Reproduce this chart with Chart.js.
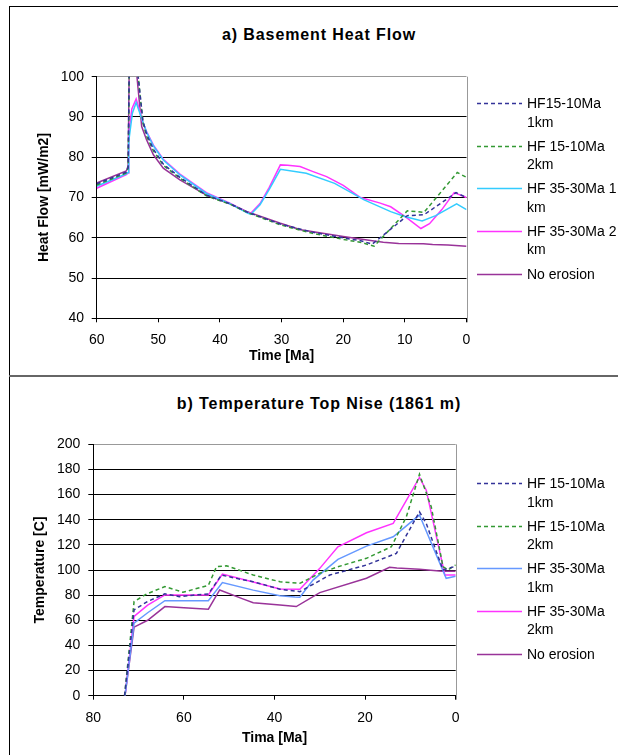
<!DOCTYPE html>
<html>
<head>
<meta charset="utf-8">
<script src="https://cdn.jsdelivr.net/npm/chart.js@4.4.0/dist/chart.umd.min.js"></script>
<style>
  body { margin: 0; background: #fff; width: 618px; height: 755px; overflow: hidden; position: relative;
         font-family: 'Liberation Sans', Arial, sans-serif; color: #000; }
  .frame { position: absolute; left: 9px; top: 6px; width: 700px; height: 800px;
           border-left: 1px solid #000; border-top: 1px solid #000; }
  .divider { position: absolute; left: 9px; top: 375px; width: 620px; height: 2px; background: #666; }
  .panel { position: absolute; left: 10px; }
  .title { position: absolute; left: 10px; width: 618px; text-align: center; font-weight: bold;
           font-size: 16px; line-height: 20px; letter-spacing: 0.9px; }
  .item { position: absolute; left: 477px; white-space: nowrap; font-size: 14px; line-height: 18.4px; }
  .item svg { position: absolute; left: 0; top: 0; }
  .item div { position: absolute; left: 50px; top: 0; }
</style>
</head>
<body>
<div class="frame"></div>
<div class="divider"></div>
<div class="title" style="top:25px">a) Basement Heat Flow</div>
<div class="title" style="top:394px">b) Temperature Top Nise (1861 m)</div>
<canvas id="heatFlow" class="panel" style="top:7px" width="608" height="368"></canvas>
<canvas id="temperature" class="panel" style="top:378px" width="608" height="377"></canvas>
<div id="legendTop"></div>
<div id="legendBottom"></div>
<script>
// a) Basement heat flow, time [Ma] vs heat flow [mW/m2]
const hfNavyT = [60, 55.2, 54.9, 54.7, 53.3, 52.5, 51.9, 50.8, 49.2, 46.5, 42.2, 38.3, 35.6, 30.2, 25, 20, 17, 15.3, 9.6, 6.9, 1.7, 0];
const hfNavyV = [73.4, 76.3, 77.5, 105, 100.5, 89, 85.7, 82, 78.3, 75, 70.6, 68.4, 66.4, 63.4, 61.4, 60, 59.2, 58.4, 65.5, 65.7, 71.2, 70];
const hfGreenT = [60, 55.2, 54.9, 54.7, 53.3, 52.5, 51.9, 50.8, 49.2, 46.5, 42.2, 38.3, 35.6, 30.2, 25, 20, 17, 15, 9.6, 6.9, 1.5, 0];
const hfGreenV = [73.1, 76.1, 77.3, 105, 100.5, 88.5, 85.2, 81.6, 78, 74.8, 70.4, 68.3, 66.3, 63.2, 61.1, 59.6, 58.8, 57.9, 66.7, 66.3, 76.2, 75];
const hfCyanT = [60, 55.2, 54.9, 54.8, 54.2, 53.6, 52.9, 51.9, 50.8, 49.2, 46.5, 42.2, 38.3, 35.6, 35, 33.5, 32, 30.2, 26, 21.4, 16.6, 12.3, 9.9, 7.2, 5, 1.6, 0];
const hfCyanV = [72.8, 75.9, 76.2, 84, 91, 93.6, 90.5, 86.2, 82.8, 79.3, 75.6, 71, 68.4, 66.2, 65.8, 68.2, 72, 77, 76, 73.5, 69.4, 66.5, 65.2, 64.2, 65.5, 68.4, 67];
const hfMagentaT = [60, 55.2, 54.9, 54.8, 54.3, 53.6, 53, 52.5, 51.9, 50.8, 49.2, 46.5, 42.2, 38.3, 35.6, 35, 33.5, 32, 30.2, 29, 27, 25, 22.7, 20, 17.2, 14, 12.3, 10, 7.4, 6, 4, 2, 0];
const hfMagentaV = [72.3, 75.7, 76.1, 86, 92, 94.5, 91.5, 88.5, 86.4, 83, 79.5, 75.8, 71.2, 68.5, 66.3, 66.1, 68.5, 72.5, 78.1, 78, 77.7, 76.5, 75.2, 73, 70, 68.6, 67.7, 65.3, 62.3, 63.5, 67, 71.2, 70];
const hfPurpleT = [60, 55.2, 54.9, 54.7, 53.5, 52.7, 51.9, 50.8, 49.2, 46.5, 42.2, 38.3, 35.6, 30.2, 26.9, 20, 15, 13.5, 11, 7, 5.5, 3, 0];
const hfPurpleV = [73.6, 76.6, 77.8, 106, 100.5, 87.6, 84.3, 80.6, 77.3, 74.4, 70.6, 68.4, 66.5, 63.6, 62, 60.3, 59.2, 58.9, 58.6, 58.5, 58.3, 58.2, 57.9];

// b) Temperature at top Nise, time [Ma] vs temperature [C]
const tNavyT = [73.1, 71, 68, 64.2, 61, 58, 54.6, 51.7, 48, 44.7, 38.8, 34.4, 27.8, 19.7, 13.1, 8, 6.5, 2.8, 0];
const tNavyV = [0, 68.3, 75, 81, 78.8, 80, 81, 96, 93, 90.7, 84.7, 82.8, 96, 104, 113.2, 146.3, 137, 100, 103];
const tGreenT = [73.1, 71, 68.2, 64.2, 60.2, 54.6, 52.8, 50.6, 44.7, 38.8, 34.4, 30, 26, 19.7, 14.2, 10.9, 8, 5.4, 2.8, 1.7, 0];
const tGreenV = [0, 74.9, 81, 86.8, 82.3, 87.8, 102.6, 103.4, 96, 90.7, 89.4, 97.4, 102.6, 109.3, 118.5, 142.3, 176.2, 150.3, 102.6, 100, 104];
const tBlueT = [73, 71, 68, 64.2, 54.6, 51.5, 44.7, 38.8, 35.5, 34.4, 31.5, 26, 19.7, 13.8, 8, 2.1, 0];
const tBlueV = [0, 57.7, 66, 75.6, 75.6, 90, 84, 79.5, 78.5, 78.3, 92, 108.5, 119, 126.4, 143.7, 93.4, 95];
const tMagentaT = [73, 71, 68, 64.2, 54.6, 51.5, 44.7, 38.8, 34.4, 30, 26, 19.7, 13.8, 8, 6.5, 2.4, 0];
const tMagentaV = [0, 63, 72, 80.2, 80.2, 96.8, 90.5, 84.9, 84.7, 101.3, 118.5, 129.6, 137, 173.6, 163.5, 96, 96];
const tPurpleT = [73, 71, 68, 64.2, 60, 54.6, 52.1, 47, 44.7, 38.8, 35.2, 30, 19.7, 14.6, 13, 8, 3, 0];
const tPurpleV = [0, 54.5, 60, 70.9, 70, 68.8, 84.1, 77, 74, 72.2, 70.9, 82, 93.4, 102.1, 101.5, 100.5, 99, 99];

const topLabels = [["HF15-10Ma", "1km"], ["HF 15-10Ma", "2km"], ["HF 35-30Ma 1", "km"], ["HF 35-30Ma 2", "km"], ["No erosion"]];
const bottomLabels = [["HF 15-10Ma", "1km"], ["HF 15-10Ma", "2km"], ["HF 35-30Ma", "1km"], ["HF 35-30Ma", "2km"], ["No erosion"]];
const topColors = ["#333399", "#339933", "#33ccff", "#ff33ff", "#993399"];
const bottomColors = ["#333399", "#339933", "#6699ff", "#ff33ff", "#993399"];
const dashes = [[4, 3], [4, 3], [], [], []];

Chart.defaults.font.family = "'Liberation Sans', Arial, sans-serif";
Chart.defaults.font.size = 14;
Chart.defaults.color = "#000";

function pts(t, v) {
  return t.map((x, i) => ({ x: x, y: v[i] }));
}

function makeSets(series, labels, colors) {
  return series.map((s, i) => ({
    label: labels[i].join(" "),
    data: pts(s[0], s[1]),
    borderColor: colors[i],
    borderWidth: 1.5,
    borderDash: dashes[i],
    pointRadius: 0,
    tension: 0,
    fill: false
  }));
}

const rightEdge = {
  id: "rightEdge",
  beforeDatasetsDraw(chart) {
    const a = chart.chartArea, c = chart.ctx;
    const x = Math.round(a.right) + 0.5;
    c.save();
    c.strokeStyle = "#999";
    c.lineWidth = 1;
    c.beginPath();
    c.moveTo(x, a.top);
    c.lineTo(x, a.bottom + 4);
    c.stroke();
    c.restore();
  }
};

function makeChart(id, o) {
  return new Chart(document.getElementById(id), {
    type: "line",
    data: { datasets: o.sets },
    plugins: [rightEdge],
    options: {
      responsive: false,
      animation: false,
      devicePixelRatio: 1,
      layout: { padding: { top: o.padTop, right: o.padRight, left: 0, bottom: 0 } },
      plugins: { legend: { display: false }, tooltip: { enabled: false } },
      scales: {
        x: {
          type: "linear",
          reverse: true,
          min: 0,
          max: o.xMax,
          afterFit: s => { s.height = o.xHeight; },
          ticks: { stepSize: o.xStep, autoSkip: false, maxRotation: 0, padding: o.xTickPad },
          grid: { drawOnChartArea: false, drawTicks: true, tickLength: 4, tickColor: "#000" },
          border: { color: "#000", width: 1 },
          title: { display: true, text: o.xTitle, font: { weight: "bold", size: 14 }, padding: { top: 0, bottom: o.xTitlePad } }
        },
        y: {
          min: o.yMin,
          max: o.yMax,
          afterFit: s => { s.width = o.yWidth; },
          ticks: { stepSize: o.yStep, padding: o.yTickPad },
          grid: {
            color: c => (c.tick && c.tick.value === o.yMax ? "#999" : "#000"),
            tickColor: "#000",
            tickLength: 5,
            lineWidth: 1
          },
          border: { color: "#000", width: 1 },
          title: { display: true, text: o.yTitle, font: { weight: "bold", size: 14 }, padding: { top: o.yTitlePad, bottom: 0 } }
        }
      }
    }
  });
}

makeChart("heatFlow", {
  sets: makeSets([[hfNavyT, hfNavyV], [hfGreenT, hfGreenV], [hfCyanT, hfCyanV], [hfMagentaT, hfMagentaV], [hfPurpleT, hfPurpleV]], topLabels, topColors),
  xMax: 60, xStep: 10, yMin: 40, yMax: 100, yStep: 10,
  padTop: 69.7, padRight: 151.5, yWidth: 86.7, xHeight: 56.7,
  xTickPad: 9, yTickPad: 7.7, xTitle: "Time [Ma]", yTitle: "Heat Flow [mW/m2]", xTitlePad: 10.6, yTitlePad: 26
});

makeChart("temperature", {
  sets: makeSets([[tNavyT, tNavyV], [tGreenT, tGreenV], [tBlueT, tBlueV], [tMagentaT, tMagentaV], [tPurpleT, tPurpleV]], bottomLabels, bottomColors),
  xMax: 80, xStep: 20, yMin: 0, yMax: 200, yStep: 20,
  padTop: 66.3, padRight: 162.3, yWidth: 83.3, xHeight: 59.3,
  xTickPad: 10, yTickPad: 8, xTitle: "Tima [Ma]", yTitle: "Temperature [C]", xTitlePad: 8.3, yTitlePad: 21.6
});

// Legends: first text line centred on the line sample
function buildLegend(elId, labels, colors, firstY) {
  const box = document.getElementById(elId);
  labels.forEach((lines, i) => {
    const item = document.createElement("div");
    item.className = "item";
    item.style.top = (firstY + i * 42.6 - 9.2) + "px";
    const dash = dashes[i].length ? ' stroke-dasharray="' + dashes[i].join(" ") + '"' : "";
    item.innerHTML = '<svg width="46" height="19"><line x1="0" y1="9.5" x2="45" y2="9.5" stroke="' + colors[i] +
      '" stroke-width="1.5"' + dash + '/></svg><div>' + lines.join("<br>") + "</div>";
    box.appendChild(item);
  });
}
buildLegend("legendTop", topLabels, topColors, 103.3);
buildLegend("legendBottom", bottomLabels, bottomColors, 483.3);
</script>
</body>
</html>
